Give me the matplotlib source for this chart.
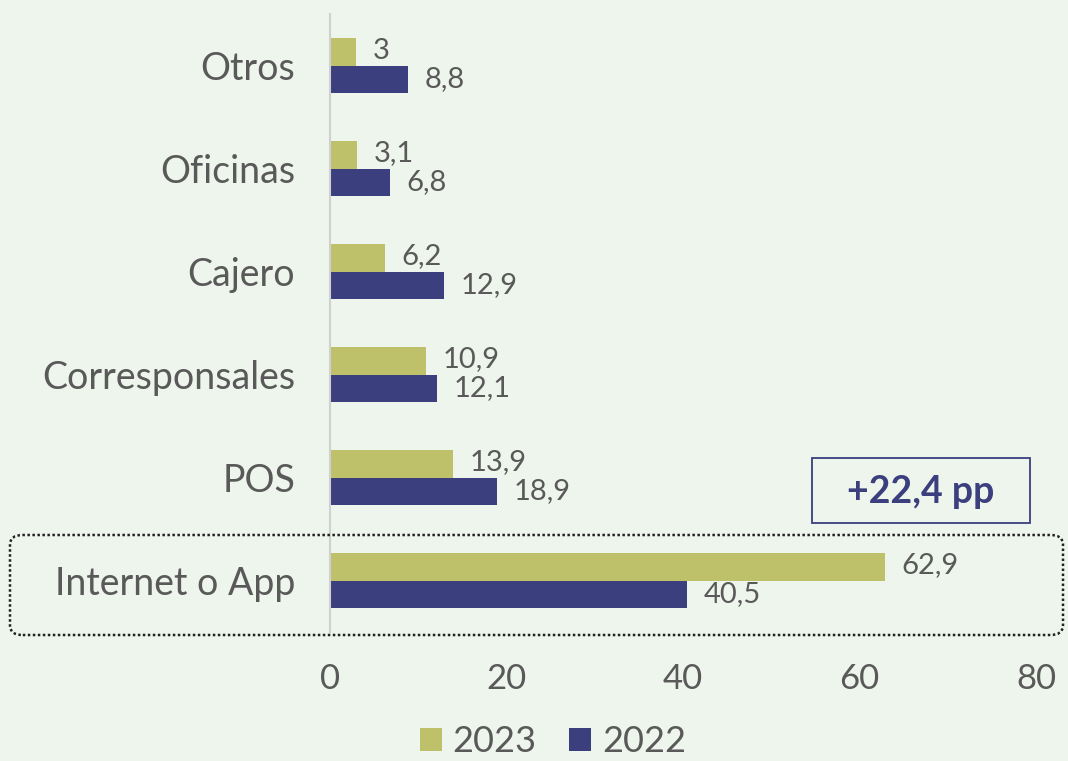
import matplotlib
matplotlib.use("Agg")
import matplotlib.pyplot as plt
from matplotlib.patches import FancyBboxPatch, Rectangle
import numpy as np

categories = ["Internet o App", "POS", "Corresponsales", "Cajero", "Oficinas", "Otros"]
values_2023 = [62.9, 13.9, 10.9, 6.2, 3.1, 3.0]
values_2022 = [40.5, 18.9, 12.1, 12.9, 6.8, 8.8]
labels_2023 = ["62,9", "13,9", "10,9", "6,2", "3,1", "3"]
labels_2022 = ["40,5", "18,9", "12,1", "12,9", "6,8", "8,8"]
xticks = [0, 20, 40, 60, 80]
annotation = "+22,4 pp"

c2023 = "#BFC16A"
c2022 = "#3B3F7E"
txt = "#595959"
bg = "#EEF5EC"

plt.rcParams['font.family'] = ['Lato', 'DejaVu Sans']

fig = plt.figure(figsize=(10.68, 7.61), dpi=100, facecolor=bg)
ax = fig.add_axes([0.309, 0.1695, 0.661, 0.812])
ax.set_facecolor(bg)

y = np.arange(len(categories))
h = 0.265
ax.barh(y + h / 2, values_2023, height=h, color=c2023, label="2023")
ax.barh(y - h / 2, values_2022, height=h, color=c2022, label="2022")

for yi, v, l in zip(y, values_2023, labels_2023):
    ax.annotate(l, (v, yi + h / 2), xytext=(12, 1), textcoords="offset points",
                va="center", ha="left", fontsize=21, color=txt)
for yi, v, l in zip(y, values_2022, labels_2022):
    ax.annotate(l, (v, yi - h / 2), xytext=(12, 0), textcoords="offset points",
                va="center", ha="left", fontsize=21, color=txt)

ax.set_xlim(0, 80)
ax.set_ylim(-0.5, len(categories) - 0.5)
ax.set_yticks(y)
ax.set_yticklabels(categories, fontsize=27, color=txt)
ax.set_xticks(xticks)
ax.set_xticklabels([str(t) for t in xticks], fontsize=25, color=txt)
ax.tick_params(axis="both", length=0)
ax.tick_params(axis="y", pad=25)
ax.tick_params(axis="x", pad=22)
for s in ["top", "right", "bottom"]:
    ax.spines[s].set_visible(False)
ax.spines["left"].set_color("#D0D0D0")
ax.spines["left"].set_linewidth(1.5)

# annotation box
box = Rectangle((812 / 1068, 1 - 523 / 761), (1030 - 812) / 1068, (523 - 458) / 761,
                transform=fig.transFigure, fc=bg, ec=c2022, lw=1.3)
fig.patches.append(box)
fig.text((812 + 1030) / 2 / 1068, 1 - 492 / 761, annotation, fontsize=27, fontweight="bold",
         color=c2022, ha="center", va="center")

# dotted rounded rectangle around Internet o App
rect = FancyBboxPatch((10 / 1068, 1 - 635 / 761), (1063 - 10) / 1068, 100 / 761,
                      boxstyle="round,pad=0,rounding_size=0.012",
                      transform=fig.transFigure, fill=False, ec="#222222",
                      lw=1.8, ls=(0, (1, 1.0)))
fig.patches.append(rect)

leg = fig.legend(loc="center", bbox_to_anchor=(553 / 1068, 1 - 742 / 761), ncol=2,
                 frameon=False, fontsize=26, handlelength=0.6, handleheight=0.6,
                 handletextpad=0.3, columnspacing=0.9, borderpad=0.2)
for t in leg.get_texts():
    t.set_color(txt)

fig.savefig("out.png", dpi=100, facecolor=bg)
